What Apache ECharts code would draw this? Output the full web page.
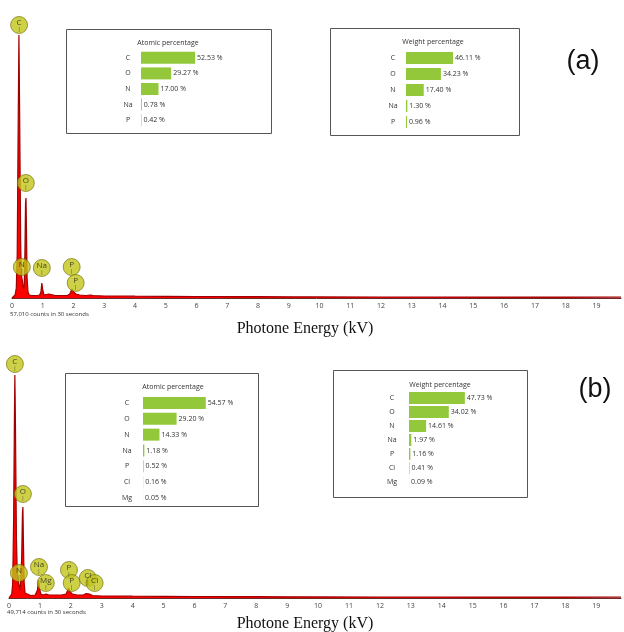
<!DOCTYPE html>
<html><head><meta charset="utf-8">
<script src="https://cdn.jsdelivr.net/npm/echarts/dist/echarts.min.js"></script>
<style>html,body{margin:0;padding:0;background:#fff}#c{width:624px;height:632px}</style>
</head><body><div id="c"></div>
<script>
// ---- Spectrum (a) ----
const energyA = [0, 0.05, 0.10, 0.14, 0.17, 0.20, 0.225, 0.25, 0.28, 0.30, 0.32, 0.34, 0.36, 0.38, 0.40, 0.42, 0.44, 0.455, 0.47, 0.49, 0.52, 0.56, 0.65, 0.80, 0.90, 0.94, 0.97, 1.00, 1.04, 1.10, 1.20, 1.25, 1.40, 1.60, 1.80, 1.88, 1.95, 2.00, 2.08, 2.20, 2.40, 2.55, 2.60, 2.65, 3.0, 3.5, 4, 5, 6, 7, 8, 9, 10, 12, 14, 16, 18, 19.8];
const countsA = [0, 1, 3, 10, 45, 170, 263, 180, 60, 25, 20, 17, 12, 9, 14, 45, 95, 100, 70, 20, 6, 3, 2.5, 2.5, 3, 6, 15, 8, 3, 2.5, 4, 2.5, 2.5, 2.5, 2.5, 4, 9, 6, 4, 3, 2.5, 3, 4, 2.5, 2, 2, 1.8, 1.6, 1.5, 1.4, 1.3, 1.2, 1.1, 1, 1, 0.9, 0.9, 0.8];
const markerNamesA = ['C', 'O', 'N', 'Na', 'P', 'P'];
const markerEnergyA = [0.23, 0.45, 0.32, 0.97, 1.94, 2.07];
const markerLevelA = [273, 115, 31, 30, 31, 15];
const atomicCatsA = ['C', 'O', 'N', 'Na', 'P'];
const atomicValsA = [52.53, 29.27, 17.00, 0.78, 0.42];
const weightCatsA = ['C', 'O', 'N', 'Na', 'P'];
const weightValsA = [46.11, 34.23, 17.40, 1.30, 0.96];

// ---- Spectrum (b) ----
const energyB = [0, 0.05, 0.09, 0.12, 0.15, 0.175, 0.19, 0.21, 0.24, 0.27, 0.30, 0.33, 0.36, 0.38, 0.41, 0.435, 0.45, 0.465, 0.49, 0.52, 0.56, 0.70, 0.85, 0.92, 0.96, 0.99, 1.03, 1.10, 1.20, 1.30, 1.50, 1.70, 1.85, 1.93, 1.98, 2.05, 2.20, 2.40, 2.50, 2.55, 2.60, 2.70, 3.0, 3.5, 4, 5, 6, 7, 8, 9, 10, 12, 14, 16, 18, 19.8];
const countsB = [0, 1, 4, 15, 80, 180, 223, 170, 60, 22, 16, 12, 8, 10, 40, 85, 91, 60, 15, 5, 3, 2.5, 3, 8, 18, 9, 4, 3, 4, 3, 3, 3, 4, 10, 6, 4, 3, 3, 4.5, 6, 4, 2.5, 2, 2, 1.8, 1.6, 1.5, 1.4, 1.3, 1.2, 1.1, 1, 1, 0.9, 0.9, 0.8];
const markerNamesB = ['C', 'O', 'N', 'Na', 'Mg', 'P', 'P', 'Cl', 'Cl'];
const markerEnergyB = [0.19, 0.45, 0.32, 0.97, 1.19, 1.94, 2.03, 2.55, 2.77];
const markerLevelB = [234, 104, 25, 31, 15, 28, 15, 20, 15];
const atomicCatsB = ['C', 'O', 'N', 'Na', 'P', 'Cl', 'Mg'];
const atomicValsB = [54.57, 29.20, 14.33, 1.18, 0.52, 0.16, 0.05];
const weightCatsB = ['C', 'O', 'N', 'Na', 'P', 'Cl', 'Mg'];
const weightValsB = [47.73, 34.02, 14.61, 1.97, 1.16, 0.41, 0.09];

const tickLabels = [0,1,2,3,4,5,6,7,8,9,10,11,12,13,14,15,16,17,18,19];
const countsTextA = '57,010 counts in 30 seconds';
const countsTextB = '49,714 counts in 30 seconds';
const axisTitle = 'Photone Energy (kV)';

const zip = (xs, ys) => xs.slice(0, Math.min(xs.length, ys.length)).map((x, i) => [x, ys[i]]);
const markers = (names, es, ls) => names.map((n, i) => ({ name: n, value: [es[i], ls[i]] }));

const chart = echarts.init(document.getElementById('c'), null, { renderer: 'canvas' });

const specGrids = [
  { left: 12, top: 18, width: 612, height: 280 },
  { left: 9, top: 358, width: 615, height: 240 }
];
const insetGrids = [
  { left: 141, top: 50, width: 103, height: 78 },
  { left: 406, top: 50, width: 102, height: 80 },
  { left: 143, top: 395, width: 115, height: 111 },
  { left: 409, top: 391, width: 117, height: 98 }
];
const insetMargins = [13, 13, 16, 17];
const insetCats = [atomicCatsA, weightCatsA, atomicCatsB, weightCatsB];
const insetVals = [atomicValsA, weightValsA, atomicValsB, weightValsB];

const TXT = '"Open Sans", "Noto Sans", sans-serif';

const xAxes = [], yAxes = [], series = [];
[[energyA, countsA, markerNamesA, markerEnergyA, markerLevelA, 280],
 [energyB, countsB, markerNamesB, markerEnergyB, markerLevelB, 240]].forEach((s, i) => {
  xAxes.push({
    type: 'value', gridIndex: i, min: 0, max: 19.8, interval: 1,
    axisLine: { show: true, lineStyle: { color: '#6b2a2a', width: 1 } },
    axisTick: { show: false }, splitLine: { show: false },
    axisLabel: { fontSize: 7, color: '#444', margin: 4, fontFamily: TXT,
      formatter: v => tickLabels.indexOf(v) >= 0 ? String(v) : '' }
  });
  yAxes.push({ type: 'value', gridIndex: i, min: 0, max: s[5], show: false });
  series.push({
    type: 'line', xAxisIndex: i, yAxisIndex: i, data: zip(s[0], s[1]),
    showSymbol: false, symbol: 'none', silent: true,
    lineStyle: { color: '#a00000', width: 1.2 },
    areaStyle: { color: '#ff0000', opacity: 1 }, z: 2
  });
  series.push({
    type: 'scatter', xAxisIndex: i, yAxisIndex: i, data: markers(s[2], s[3], s[4]),
    symbolSize: 17, z: 5,
    itemStyle: { color: '#c2c418', borderColor: '#6a6a08', borderWidth: 0.8 },
    label: { show: true, position: 'inside',
      formatter: p => '{t|' + p.name + '}\n{v||}',
      rich: { t: { fontSize: 8, lineHeight: 9, color: '#222', fontFamily: TXT },
              v: { fontSize: 5, lineHeight: 5, color: '#333' } } }
  });
});

insetGrids.forEach((g, k) => {
  const gi = k + 2;
  xAxes.push({ type: 'value', gridIndex: gi, min: 0, max: 100, show: false });
  yAxes.push({
    type: 'category', gridIndex: gi, data: insetCats[k], inverse: true,
    axisLine: { show: false }, axisTick: { show: false },
    axisLabel: { align: 'center', margin: insetMargins[k], fontSize: 7, color: '#333', fontFamily: TXT }
  });
  series.push({
    type: 'bar', xAxisIndex: gi, yAxisIndex: gi, data: insetVals[k],
    barWidth: 12, itemStyle: { color: '#92c83a' }, silent: true,
    label: { show: true, position: 'right', distance: 2, fontSize: 7, color: '#333', fontFamily: TXT,
      formatter: p => p.value.toFixed(2) + ' %' }
  });
});

const boxes = [[66, 29, 205, 104], [330, 28, 189, 107], [65, 373, 193, 133], [333, 370, 194, 127]];
const boxTitles = [['Atomic percentage', 168, 43], ['Weight percentage', 433, 42], ['Atomic percentage', 173, 387], ['Weight percentage', 440, 385]];

const graphic = [];
boxes.forEach(b => graphic.push({ type: 'rect', shape: { x: b[0] + 0.5, y: b[1] + 0.5, width: b[2], height: b[3] },
  style: { fill: 'none', stroke: '#555', lineWidth: 1 }, z: 0 }));
boxTitles.forEach(t => graphic.push({ type: 'text', x: t[1], y: t[2],
  style: { text: t[0], fontSize: 7, fill: '#333', textAlign: 'center', textVerticalAlign: 'middle', fontFamily: TXT } }));
graphic.push({ type: 'text', x: 10, y: 314, style: { text: countsTextA, fontSize: 6, fill: '#333', textVerticalAlign: 'middle', fontFamily: TXT } });
graphic.push({ type: 'text', x: 7, y: 612, style: { text: countsTextB, fontSize: 6, fill: '#333', textVerticalAlign: 'middle', fontFamily: TXT } });
graphic.push({ type: 'text', x: 305, y: 329, style: { text: axisTitle, fontSize: 16, fill: '#111', textAlign: 'center', textVerticalAlign: 'middle', fontFamily: '"Liberation Serif", "DejaVu Serif", serif' } });
graphic.push({ type: 'text', x: 305, y: 624, style: { text: axisTitle, fontSize: 16, fill: '#111', textAlign: 'center', textVerticalAlign: 'middle', fontFamily: '"Liberation Serif", "DejaVu Serif", serif' } });
graphic.push({ type: 'text', x: 583, y: 62, style: { text: '(a)', fontSize: 27, fill: '#111', textAlign: 'center', textVerticalAlign: 'middle', fontFamily: '"Liberation Sans", Arial, sans-serif' } });
graphic.push({ type: 'text', x: 595, y: 390, style: { text: '(b)', fontSize: 27, fill: '#111', textAlign: 'center', textVerticalAlign: 'middle', fontFamily: '"Liberation Sans", Arial, sans-serif' } });

chart.setOption({
  backgroundColor: '#fff',
  animation: false,
  grid: specGrids.concat(insetGrids),
  xAxis: xAxes,
  yAxis: yAxes,
  series: series,
  graphic: graphic
});
</script>
</body></html>
